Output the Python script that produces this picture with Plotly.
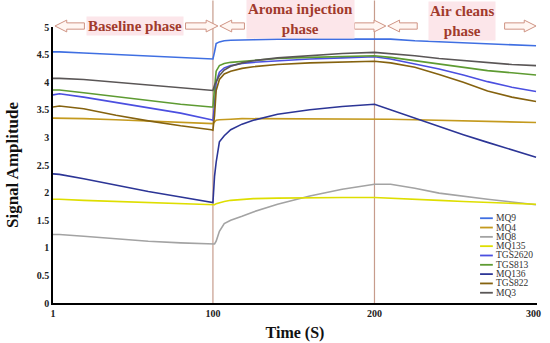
import plotly.graph_objects as go

# ---------------- data ----------------
time_s = [1, 5, 20, 40, 60, 80, 99, 100, 101, 102, 104, 107, 111, 118, 125, 140, 160, 180,
          200, 210, 225, 240, 255, 270, 285, 300]

mq9 = [4.55, 4.55, 4.53, 4.50, 4.47, 4.45, 4.42, 4.42, 4.55, 4.70, 4.73, 4.75, 4.76, 4.77, 4.77,
       4.78, 4.78, 4.79, 4.79, 4.78, 4.75, 4.73, 4.71, 4.69, 4.68, 4.66]
mq4 = [3.35, 3.35, 3.34, 3.32, 3.30, 3.28, 3.26, 3.25, 3.28, 3.31, 3.32, 3.33, 3.33, 3.34, 3.34,
       3.34, 3.34, 3.34, 3.34, 3.33, 3.32, 3.31, 3.30, 3.29, 3.28, 3.27]
mq8 = [1.24, 1.24, 1.21, 1.16, 1.12, 1.09, 1.07, 1.07, 1.07, 1.12, 1.30, 1.44, 1.50, 1.57, 1.65,
       1.79, 1.94, 2.06, 2.15, 2.15, 2.08, 1.99, 1.93, 1.88, 1.83, 1.78]
mq135 = [1.88, 1.88, 1.86, 1.84, 1.82, 1.80, 1.78, 1.77, 1.78, 1.80, 1.82, 1.84, 1.86, 1.88, 1.89,
         1.90, 1.91, 1.91, 1.91, 1.90, 1.88, 1.86, 1.84, 1.82, 1.80, 1.79]
tgs2620 = [3.77, 3.79, 3.73, 3.63, 3.54, 3.44, 3.32, 3.31, 3.60, 4.00, 4.18, 4.26, 4.30, 4.34, 4.36,
           4.39, 4.42, 4.44, 4.46, 4.42, 4.33, 4.24, 4.13, 4.01, 3.91, 3.83]
tgs813 = [3.86, 3.86, 3.81, 3.74, 3.67, 3.60, 3.55, 3.55, 3.90, 4.20, 4.30, 4.34, 4.36, 4.38, 4.40,
          4.43, 4.45, 4.47, 4.48, 4.45, 4.39, 4.32, 4.26, 4.21, 4.17, 4.13]
mq136 = [2.34, 2.33, 2.25, 2.13, 2.02, 1.92, 1.83, 1.82, 2.30, 2.55, 2.92, 3.03, 3.14, 3.24, 3.31,
         3.42, 3.50, 3.56, 3.60, 3.50, 3.34, 3.19, 3.05, 2.91, 2.78, 2.64]
tgs822 = [3.55, 3.57, 3.52, 3.40, 3.30, 3.21, 3.14, 3.13, 3.40, 3.85, 4.05, 4.15, 4.20, 4.25, 4.28,
          4.32, 4.35, 4.37, 4.38, 4.35, 4.27, 4.14, 4.00, 3.84, 3.73, 3.65]
mq3 = [4.07, 4.07, 4.05, 4.00, 3.94, 3.89, 3.85, 3.85, 3.95, 4.00, 4.12, 4.22, 4.29, 4.35, 4.39,
       4.44, 4.48, 4.52, 4.54, 4.52, 4.48, 4.43, 4.39, 4.35, 4.32, 4.30]

series_names = ["MQ9", "MQ4", "MQ8", "MQ135", "TGS2620", "TGS813", "MQ136", "TGS822", "MQ3"]
series_values = [mq9, mq4, mq8, mq135, tgs2620, tgs813, mq136, tgs822, mq3]
series_colors = ["#3f6fe2", "#c49a1e", "#a3a3a3", "#dede00", "#4b4fe0",
                 "#5e9b32", "#2c3596", "#85620f", "#5a5656"]

x_ticks = [1, 100, 200, 300]
x_tick_text = ["1", "100", "200", "300"]
y_ticks = [0, 0.5, 1, 1.5, 2, 2.5, 3, 3.5, 4, 4.5, 5]
y_tick_text = ["0", "0.5", "1", "1.5", "2", "2.5", "3", "3.5", "4", "4.5", "5"]
phase_bounds = [100, 200]

# ---------------- layout helpers ----------------
W, H = 550, 343
L, R, T, B = 53, 4, 27, 36
PW, PH = W - L - R, H - T - B
X_MAX = 300.6
SERIF = "Liberation Serif, Times New Roman, serif"


def px(xpix):
    return (xpix - L) / PW


def py(ypix):
    return (H - B - ypix) / PH


fig = go.Figure()
for name, vals, col in zip(series_names, series_values, series_colors):
    fig.add_trace(go.Scatter(x=time_s, y=vals, mode="lines", name=name,
                             line=dict(color=col, width=1.6), showlegend=False))

shapes = []
annotations = []

# phase boundary lines
for b in phase_bounds:
    shapes.append(dict(type="line", xref="x", yref="paper", x0=b, x1=b, y0=0, y1=py(0),
                       line=dict(color="#c79c8c", width=1.2), layer="below"))


def arrow(tip, tail, yc=26, hh=6, sh=3.2, hl=12):
    d = 1 if tail > tip else -1
    base = tip + d * hl
    pts = [(tip, yc), (base, yc - hh), (base, yc - sh), (tail, yc - sh),
           (tail, yc + sh), (base, yc + sh), (base, yc + hh)]
    path = "M " + " L ".join(f"{px(a):.5f},{py(b):.5f}" for a, b in pts) + " Z"
    return dict(type="path", xref="paper", yref="paper", path=path,
                line=dict(color="#cf9484", width=1), fillcolor="#fff6f2")


for tip, tail in [(55, 85), (221, 188), (223, 248), (392, 360), (394, 424), (545, 513)]:
    shapes.append(arrow(tip, tail))

label_style = dict(family=SERIF, size=15, color="#a13a2c")
for text, cx, cy in [("<b>Baseline phase</b>", 137, 26),
                     ("<b>Aroma injection<br>phase</b>", 305, 19),
                     ("<b>Air cleans<br>phase</b>", 470, 21)]:
    annotations.append(dict(x=px(cx), y=py(cy), xref="paper", yref="paper", text=text,
                            xanchor="center", yanchor="middle", showarrow=False,
                            font=label_style, bgcolor="#fce6ea", borderpad=1))

# compact legend built from the series lists
leg_y0, leg_dy = 221, 9.45
for i, (name, col) in enumerate(zip(series_names, series_colors)):
    yy = leg_y0 + i * leg_dy
    shapes.append(dict(type="line", xref="paper", yref="paper", x0=px(488), x1=px(501),
                       y0=py(yy), y1=py(yy), line=dict(color=col, width=1.8)))
    annotations.append(dict(x=px(502), y=py(yy), xref="paper", yref="paper", text=name,
                            showarrow=False, xanchor="left", yanchor="middle",
                            font=dict(family=SERIF, size=9.5, color="#333333")))

x_labels = [f"<b>{t}</b>" + ("&nbsp;&nbsp;" if t == "300" else "") for t in x_tick_text]

fig.update_layout(
    width=W, height=H,
    margin=dict(l=L, r=R, t=T, b=B),
    paper_bgcolor="white", plot_bgcolor="white",
    shapes=shapes, annotations=annotations,
    showlegend=False,
    xaxis=dict(range=[1, X_MAX], tickvals=x_ticks, ticktext=x_labels, ticklabeloverflow="allow",
               showgrid=False, zeroline=False, showline=True, linecolor="black", linewidth=2,
               ticks="", tickfont=dict(family=SERIF, size=10, color="#222"),
               title=dict(text="<b>Time (S)</b>", font=dict(family=SERIF, size=16, color="#111"),
                          standoff=9)),
    yaxis=dict(range=[0, 5], tickvals=y_ticks, ticktext=[f"<b>{t}</b>" for t in y_tick_text],
               showgrid=False, zeroline=False, showline=True, linecolor="black", linewidth=1.5,
               ticks="", tickfont=dict(family=SERIF, size=10, color="#222"),
               title=dict(text="<b>Signal Amplitude</b>", font=dict(family=SERIF, size=17, color="#111"),
                          standoff=14)),
)

fig.write_html("out.html", config={"displayModeBar": False},
               post_script="document.body.style.margin='0';document.body.style.overflow='hidden';")
